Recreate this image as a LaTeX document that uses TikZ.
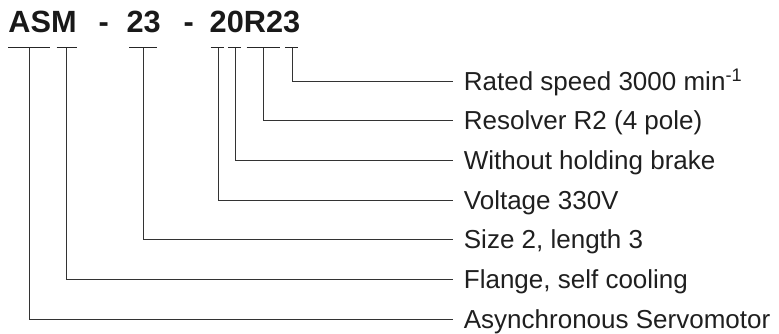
\documentclass[tikz,border=0pt]{standalone}
\usepackage{fontspec}
\setmainfont{Liberation Sans}
\begin{document}
\begin{tikzpicture}[x=1pt,y=-1pt,
  ttl/.style={anchor=base west, inner sep=0pt, font=\fontsize{30.7}{36}\selectfont\bfseries, text=black!90},
  lbl/.style={anchor=west, inner xsep=11pt, inner ysep=0pt, text height=18pt, text depth=0pt, font=\fontsize{26}{30}\selectfont, text=black!88},
  bar/.style={line width=1.4pt, draw=black!85},
  conn/.style={line width=1pt, draw=black!80}]
\useasboundingbox (0,0) rectangle (779,334);
% title
\node[ttl] (t1) at (8.3,33) {ASM};
\node[ttl] (t2) at (98.5,33) {-};
\node[ttl] (t3) at (126.3,33) {23};
\node[ttl] (t4) at (183.5,33) {-};
\node[ttl] (t5) at (209.5,33) {20R23};
% bars
\draw[bar] (8.3,47.7) -- (50,47.7);
\draw[bar] (56.7,47.7) -- (77.3,47.7);
\draw[bar] (129.3,47.7) -- (156.7,47.7);
\draw[bar] (210.7,47.7) -- (224,47.7);
\draw[bar] (228.3,47.7) -- (240.7,47.7);
\draw[bar] (246.7,47.7) -- (280,47.7);
\draw[bar] (285,47.7) -- (298.3,47.7);
\coordinate (b1) at (29,47.7);
\coordinate (b2) at (66.7,47.7);
\coordinate (b3) at (143.3,47.7);
\coordinate (b4) at (218.3,47.7);
\coordinate (b5) at (235,47.7);
\coordinate (b6) at (263.3,47.7);
\coordinate (b7) at (292.7,47.7);
% labels
\node[lbl] (l7) at (452.7,81.5) {Rated speed 3000 min\textsuperscript{-1}};
\node[lbl] (l6) at (452.7,121) {Resolver R2 (4 pole)};
\node[lbl] (l5) at (452.7,160.3) {Without holding brake};
\node[lbl] (l4) at (452.7,200) {Voltage 330V};
\node[lbl] (l3) at (452.7,239.3) {Size 2, length 3};
\node[lbl] (l2) at (452.7,279.7) {Flange, self cooling};
\node[lbl] (l1) at (452.7,319.3) {Asynchronous Servomotor};
% connectors
\draw[conn] (b1) |- (l1.west);
\draw[conn] (b2) |- (l2.west);
\draw[conn] (b3) |- (l3.west);
\draw[conn] (b4) |- (l4.west);
\draw[conn] (b5) |- (l5.west);
\draw[conn] (b6) |- (l6.west);
\draw[conn] (b7) |- (l7.west);
\end{tikzpicture}
\end{document}
